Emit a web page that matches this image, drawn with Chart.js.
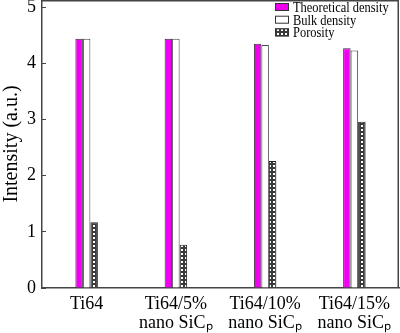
<!DOCTYPE html>
<html>
<head>
<meta charset="utf-8">
<script src="https://cdn.jsdelivr.net/npm/chart.js@4/dist/chart.umd.min.js"></script>
<style>
html,body{margin:0;padding:0;background:#fff;}
#wrap{width:400px;height:333px;position:relative;}
</style>
</head>
<body>
<div id="wrap"><canvas id="c" width="400" height="333"></canvas></div>
<script>
const categories = [['Ti64'], ['Ti64/5%', 'nano SiC\u209A'], ['Ti64/10%', 'nano SiC\u209A'], ['Ti64/15%', 'nano SiC\u209A']];
const seriesNames = ['Theoretical density', 'Bulk density', 'Porosity'];
const theoretical = [4.44, 4.44, 4.35, 4.27];
const bulk = [4.44, 4.44, 4.33, 4.23];
const porosity = [1.17, 0.77, 2.26, 2.96];
const yTicks = [0, 1, 2, 3, 4, 5];

const SERIF = '"Liberation Serif", "Times New Roman", serif';

function makePattern() {
  const c = document.createElement('canvas');
  c.width = 4; c.height = 4;
  const x = c.getContext('2d');
  x.fillStyle = '#3a3a3a';
  x.fillRect(0, 0, 4, 4);
  x.fillStyle = '#ffffff';
  x.fillRect(1, 1, 2, 2);
  return x.createPattern(c, 'repeat');
}
const pat = makePattern();

const colors = ['#f000f0', '#ffffff', pat];
const borders = ['#333333', '#444444', '#222222'];

const framePlugin = {
  id: 'frame',
  afterDraw(chart) {
    const a = chart.chartArea, ctx = chart.ctx;
    ctx.save();
    ctx.strokeStyle = '#444';
    ctx.lineWidth = 1.5;
    ctx.beginPath();
    ctx.moveTo(a.left, a.top + 0.75);
    ctx.lineTo(a.right - 0.75, a.top + 0.75);
    ctx.lineTo(a.right - 0.75, a.bottom);
    ctx.stroke();
    // legend
    const lx = 275, ly0 = 7, dy = 12.7;
    ctx.textBaseline = 'middle';
    ctx.textAlign = 'left';
    seriesNames.forEach((n, i) => {
      const y = ly0 + i * dy;
      ctx.fillStyle = colors[i];
      ctx.fillRect(lx, y - 4, 14, 8);
      ctx.strokeStyle = '#333';
      ctx.lineWidth = 1;
      ctx.strokeRect(lx + 0.5, y - 3.5, 13, 7);
      ctx.save();
      ctx.translate(lx + 18, y + 1);
      ctx.scale(0.83, 1);
      ctx.font = '15px ' + SERIF;
      ctx.fillStyle = '#000';
      ctx.fillText(n, 0, 0);
      ctx.restore();
    });
    ctx.restore();
  }
};

new Chart(document.getElementById('c'), {
  type: 'bar',
  data: {
    labels: categories,
    datasets: [
      { label: seriesNames[0], data: theoretical, backgroundColor: colors[0], borderColor: borders[0], borderWidth: 1 },
      { label: seriesNames[1], data: bulk, backgroundColor: colors[1], borderColor: borders[1], borderWidth: 1 },
      { label: seriesNames[2], data: porosity, backgroundColor: colors[2], borderColor: borders[2], borderWidth: 1 }
    ]
  },
  options: {
    responsive: false,
    animation: false,
    layout: { autoPadding: false, padding: { top: 0, right: 1, left: 0, bottom: 0 } },
    datasets: { bar: { categoryPercentage: 0.252, barPercentage: 1.0 } },
    plugins: { legend: { display: false }, tooltip: { enabled: false } },
    scales: {
      x: {
        grid: { display: false, drawTicks: false },
        border: { display: true, color: '#444', width: 1.5 },
        ticks: { color: '#000', font: { family: SERIF, size: 18, lineHeight: 1.1 }, padding: 6, maxRotation: 0, autoSkip: false },
        afterFit(s) { s.height = 45; s.paddingLeft = 0; s.paddingRight = 0; }
      },
      y: {
        min: 0, max: 5.13,
        afterBuildTicks(s) { s.ticks = yTicks.map(v => ({ value: v })); },
        grid: { drawOnChartArea: false, drawTicks: true, tickLength: -4, color: '#444' },
        border: { display: true, color: '#444', width: 1.5 },
        ticks: { color: '#000', font: { family: SERIF, size: 18 }, padding: 10 },
        title: { display: true, text: 'Intensity (a.u.)', color: '#000', font: { family: SERIF, size: 20 }, padding: { top: 0, bottom: 2 } },
        afterFit(s) { s.width = 42; s.paddingTop = 0; s.paddingBottom = 0; }
      }
    }
  },
  plugins: [framePlugin]
});
</script>
</body>
</html>
